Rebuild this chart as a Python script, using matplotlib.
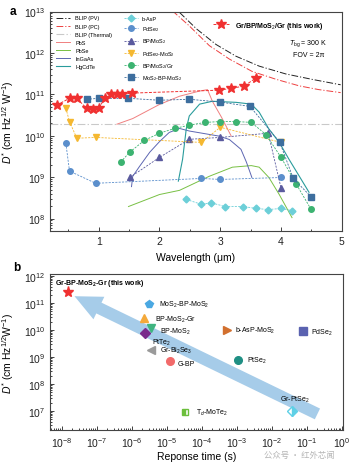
import matplotlib
matplotlib.use('Agg')
import matplotlib.pyplot as plt
import numpy as np
from matplotlib.ticker import MultipleLocator, FixedLocator, NullFormatter

plt.rcParams['font.family'] = ['Liberation Sans', 'DejaVu Sans']
plt.rcParams['mathtext.fontset'] = 'custom'
plt.rcParams['mathtext.rm'] = 'Liberation Sans'
plt.rcParams['mathtext.it'] = 'Liberation Sans:italic'
plt.rcParams['mathtext.bf'] = 'Liberation Sans:bold'

# ---------------- panel a data (wavelength in um, D* in Jones) ----------------
blip_pv_wl = [2.33, 2.61, 2.93, 3.26, 3.64, 4.08, 4.51, 4.98]
blip_pv_d = [9.5e12, 3.8e12, 1.6e12, 8.3e11, 4.8e11, 3.1e11, 2.3e11, 1.7e11]
blip_pc_wl = [2.21, 2.49, 2.82, 3.15, 3.52, 3.92, 4.30, 4.62, 4.98]
blip_pc_d = [1.05e13, 4.5e12, 1.5e12, 7.1e11, 3.6e11, 2.3e11, 1.6e11, 1.3e11, 1.1e11]
blip_th_wl = [0.2, 5.0]
blip_th_d = [1.9e10, 1.9e10]

pbs_wl = [1.30, 1.56, 2.0, 2.33, 2.66, 2.79, 2.87, 3.02, 3.18]
pbs_d = [1.9e10, 2.6e10, 5.7e10, 9e10, 1.2e11, 1.3e11, 6.8e10, 2.8e10, 9.8e9]
pbse_wl = [1.49, 2.0, 2.33, 2.82, 3.2, 3.51, 3.64, 3.80, 3.97, 4.18]
pbse_d = [1.95e8, 3.8e8, 4.8e8, 1.05e9, 1.74e9, 1.9e9, 1.74e9, 9.8e8, 3.8e8, 1.05e8]
ingaas_wl = [1.54, 1.56, 1.67, 1.84, 2.0, 2.16, 2.33, 2.49, 2.98, 3.15, 3.34, 3.43, 3.52]
ingaas_d = [5.9e8, 1.05e9, 1.8e9, 4e9, 7.2e9, 1.2e10, 1.5e10, 1.3e10, 9.8e9, 8.1e9,
            4.7e9, 2.3e9, 9.8e8]
hgcdte_wl = [2.31, 2.38, 2.44, 2.49, 2.66, 2.87, 3.26, 3.51, 3.64, 3.80, 3.97, 4.13, 4.30, 4.46]
hgcdte_d = [8e8, 2.7e9, 1.45e10, 3e10, 5.8e10, 6.8e10, 6.4e10, 5.8e10, 3.7e10, 1.45e10,
            6.9e9, 2.7e9, 1.05e9, 4.3e8]

basp_wl = [2.44, 2.69, 2.85, 3.08, 3.38, 3.59, 3.79, 4.0, 4.18]
basp_d = [2.9e8, 2.2e8, 2.4e8, 1.95e8, 1.95e8, 1.75e8, 1.65e8, 1.75e8, 1.55e8]
pdse2_wl = [0.46, 0.52, 0.95, 2.69, 3.0, 4.0]
pdse2_d = [6.6e9, 1.4e9, 7.1e8, 9.3e8, 8.8e8, 9.8e8]
bpmos2_wl = [1.51, 2.0, 2.49, 3.0, 3.79, 4.0]
bpmos2_d = [9.8e8, 3.0e9, 8.2e9, 9.1e9, 1.15e10, 5.4e8]
pdse2mos2_wl = [0.46, 0.52, 0.64, 0.95, 2.69, 3.0, 4.0]
pdse2mos2_d = [4.6e10, 2.2e10, 8.7e9, 9.1e9, 6.9e9, 1.6e10, 6.9e9]
bpmos2gr_wl = [1.36, 1.51, 1.75, 2.0, 2.25, 2.49, 2.75, 3.0, 3.26, 3.51, 3.75, 4.0, 4.25, 4.49]
bpmos2gr_d = [2.3e9, 4e9, 7.7e9, 1.15e10, 1.5e10, 1.8e10, 2.1e10, 2.2e10, 2.2e10, 2.1e10,
              1.07e10, 3.0e9, 6.8e8, 1.7e8]
mbm_wl = [0.80, 1.0, 1.49, 2.0, 2.49, 3.0, 3.49, 3.98, 4.2, 4.49]
mbm_d = [7.6e10, 8e10, 8e10, 7.2e10, 7.6e10, 6.5e10, 5.1e10, 6.9e9, 9.3e8, 3.4e8]

work_wl = [0.31, 0.52, 0.64, 0.80, 0.90, 1.0, 1.10, 1.21, 1.30, 1.39, 1.54, 2.98, 3.18, 3.39, 3.59]
work_d = [5.5e10, 8e10, 8e10, 4.6e10, 4.4e10, 4.6e10, 8e10, 1e11, 1e11, 1e11, 1.07e11,
          1.26e11, 1.4e11, 1.58e11, 2.5e11]

# ---------------- panel b data (response time in s, D* in Jones) ----------------
b_names = ['MoS$_2$-BP-MoS$_2$', 'BP-MoS$_2$-Gr', 'BP-MoS$_2$', 'PtTe$_2$',
           'Gr-Bi$_2$Se$_3$', 'G-BP', 'b-AsP-MoS$_2$', 'PdSe$_2$', 'PtSe$_2$',
           'T$_d$-MoTe$_2$', 'Gr-PtSe$_2$']
b_time = [3.1e-6, 2.2e-6, 3.6e-6, 2.35e-6, 3.6e-6, 1.2e-5, 5.1e-4, 0.075, 1.1e-3, 3.2e-5, 0.038]
b_dstar = [9.1e10, 2.7e10, 1.15e10, 7.6e9, 1.8e9, 7.2e8, 1e10, 8.9e9, 7.7e8, 9.3e6, 9.8e6]
b_markers = ['p', '^', 'v', 'D', '<', 'o', '>', 's', 'o', 's', 'D']
b_colors = ['#4aa8e2', '#f4a93a', '#3fb480', '#7a2b8c', '#9a9a9a', '#f26a6a', '#d2702e',
            '#5a62b0', '#1f8f84', '#6cbf3c', '#5fd0e6']
b_offsets = [(7, 0), (8, 0), (6, -1.5), (5, -6), (6, 0), (6, -1.5), (6, 0), (6, 0),
             (6, 0), (8, 0), (2, 9)]
work_time = 1.5e-8
work_dstar = 2.6e11
arrow_head = (2.3e-8, 1.8e11)
arrow_tail = (0.2, 7.9e6)

wl_ticks = [1, 2, 3, 4, 5]
a_dec = [1e8, 1e9, 1e10, 1e11, 1e12, 1e13]
b_xdec = [1e-8, 1e-7, 1e-6, 1e-5, 1e-4, 1e-3, 1e-2, 1e-1, 1e0]
b_ydec = [1e7, 1e8, 1e9, 1e10, 1e11, 1e12]


def minor_decades(lo, hi, first_exp, last_exp):
    vals = [m * 10.0 ** e for e in range(first_exp, last_exp + 1) for m in range(2, 10)]
    return [v for v in vals if lo <= v <= hi]


# ---------------- figure ----------------
fig = plt.figure(figsize=(3.55, 4.64), dpi=100)
ax1 = fig.add_axes([0.141, 0.5, 0.822, 0.473])
ax2 = fig.add_axes([0.141, 0.071, 0.825, 0.336])

fs_tick = 7.5
fs_lab = 7.5

# panel a curves
dd = (0, (7, 2, 1.2, 2))
h_pv, = ax1.plot(blip_pv_wl, blip_pv_d, color='#222222', ls=dd, lw=0.7, label='BLIP (PV)')
h_pc, = ax1.plot(blip_pc_wl, blip_pc_d, color='#ee4040', ls=dd, lw=0.7, label='BLIP (PC)')
h_th, = ax1.plot(blip_th_wl, blip_th_d, color='#c9c9c9', ls=dd, lw=0.8, label='BLIP (Thermal)')
h_pbs, = ax1.plot(pbs_wl, pbs_d, color='#f08080', lw=0.7, label='PbS')
h_pbse, = ax1.plot(pbse_wl, pbse_d, color='#78c044', lw=0.7, label='PbSe')
h_ing, = ax1.plot(ingaas_wl, ingaas_d, color='#5d66b2', lw=0.7, label='InGaAs')
h_hg, = ax1.plot(hgcdte_wl, hgcdte_d, color='#2a9c9c', lw=0.8, label='HgCdTe')

dash = (0, (2.5, 1.5))
series = [
    (basp_wl, basp_d, 'D', '#6ccfd8', 'b-AsP', 3.5),
    (pdse2_wl, pdse2_d, 'o', '#5b8fcc', 'PdSe$_2$', 4),
    (bpmos2_wl, bpmos2_d, '^', '#5a5a9e', 'BP/MoS$_2$', 4.5),
    (pdse2mos2_wl, pdse2mos2_d, 'v', '#f5b830', 'PdSe$_2$-MoS$_2$', 4.5),
    (bpmos2gr_wl, bpmos2gr_d, 'o', '#3cb371', 'BP/MoS$_2$/Gr', 4),
    (mbm_wl, mbm_d, 's', '#3d6e9e', 'MoS$_2$-BP-MoS$_2$', 4),
]
mark_handles = []
for x, y, m, c, lab, ms in series:
    h, = ax1.plot(x, y, ls=dash, lw=0.6, marker=m, ms=ms, color=c, mec=c, label=lab)
    mark_handles.append(h)

h_work, = ax1.plot(work_wl, work_d, ls=(0, (3, 1.5)), lw=0.7, marker='*', ms=7,
                   color='#f03030', mec='#f03030', label='Gr/BP/MoS$_2$/Gr (this work)', zorder=5)

ax1.set_yscale('log')
ax1.set_xlim(0.2, 5)
ax1.set_ylim(5e7, 1e13)
ax1.xaxis.set_major_locator(FixedLocator(wl_ticks))
ax1.xaxis.set_minor_locator(MultipleLocator(0.5))
ax1.yaxis.set_major_locator(FixedLocator(a_dec))
ax1.yaxis.set_minor_locator(FixedLocator(minor_decades(5e7, 1e13, 7, 12)))
ax1.yaxis.set_minor_formatter(NullFormatter())
ax1.set_xlabel('Wavelength (μm)', fontsize=fs_lab)
ax1.set_ylabel('$D^{*}$ (cm Hz$^{1/2}$ W$^{-1}$)', fontsize=fs_lab)
ax1.yaxis.set_label_coords(-0.115, 0.5)
ax1.xaxis.set_label_coords(0.5, -0.095)

leg1 = ax1.legend(handles=[h_pv, h_pc, h_th, h_pbs, h_pbse, h_ing, h_hg], loc='upper left',
                  bbox_to_anchor=(0.02, 0.982), frameon=False, fontsize=4, handlelength=2.6,
                  handletextpad=0.9, labelspacing=0.55, borderpad=0, borderaxespad=0)
ax1.add_artist(leg1)
leg2 = ax1.legend(handles=mark_handles, loc='upper left', bbox_to_anchor=(0.255, 0.98),
                  frameon=False, fontsize=4, handlelength=2.4, handletextpad=0.7,
                  labelspacing=0.6, borderpad=0, borderaxespad=0)
ax1.add_artist(leg2)
leg3 = ax1.legend(handles=[h_work], loc='upper left', bbox_to_anchor=(0.56, 0.962),
                  frameon=False, handlelength=2.2, handletextpad=0.9, borderpad=0,
                  borderaxespad=0, prop={'size': 5, 'weight': 'bold'})
ax1.text(0.885, 0.86, '$T_{\\rm bg}$ = 300 K', transform=ax1.transAxes, fontsize=5,
         ha='center', va='center')
ax1.text(0.885, 0.805, 'FOV = 2π', transform=ax1.transAxes, fontsize=5,
         ha='center', va='center')

# panel b
ax2.annotate('', xy=arrow_head, xytext=arrow_tail,
             arrowprops=dict(arrowstyle='simple,head_length=1.95,head_width=1.8,tail_width=0.86',
                             fc='#a6cce9', ec='none', mutation_scale=10, shrinkA=0, shrinkB=0),
             zorder=1)
for i, name in enumerate(b_names):
    kw = dict(marker=b_markers[i], ms=5.5, color=b_colors[i], mec=b_colors[i], ls='none',
              zorder=3)
    if name.startswith('T$_d$'):
        kw.update(fillstyle='left', markerfacecoloralt='white', ms=5)
    if name.startswith('Gr-PtSe'):
        kw.update(fillstyle='right', markerfacecoloralt='white', ms=5)
    if b_markers[i] == 'D' and not name.startswith('Gr-PtSe'):
        kw['ms'] = 5
    ax2.plot([b_time[i]], [b_dstar[i]], **kw)
    ha = 'center' if name.startswith('Gr-PtSe') else 'left'
    ax2.annotate(name, (b_time[i], b_dstar[i]), xytext=b_offsets[i], textcoords='offset points',
                 fontsize=5, ha=ha, va='center', zorder=4)
ax2.plot([work_time], [work_dstar], marker='*', ms=8, color='#f03030', ls='none', zorder=4)
ax2.annotate('Gr-BP-MoS$_{\\mathbf{2}}$-Gr (this work)', (work_time, work_dstar),
             xytext=(-9.5, 6.5), textcoords='offset points', fontsize=5, fontweight='bold',
             ha='left', va='center')

ax2.set_xscale('log')
ax2.set_yscale('log')
ax2.set_xlim(4.6e-9, 1.07)
ax2.set_ylim(2e6, 1.18e12)
ax2.xaxis.set_major_locator(FixedLocator(b_xdec))
ax2.xaxis.set_minor_locator(FixedLocator(minor_decades(4.6e-9, 1.07, -9, 0)))
ax2.xaxis.set_minor_formatter(NullFormatter())
ax2.yaxis.set_major_locator(FixedLocator(b_ydec))
ax2.yaxis.set_minor_locator(FixedLocator(minor_decades(2e6, 1.18e12, 6, 11)))
ax2.yaxis.set_minor_formatter(NullFormatter())
ax2.set_xlabel('Reponse time (s)', fontsize=fs_lab)
ax2.set_ylabel('$D^{*}$ (cm Hz$^{1/2}$W$^{-1}$)', fontsize=fs_lab)
ax2.yaxis.set_label_coords(-0.115, 0.5)
ax2.xaxis.set_label_coords(0.5, -0.135)

for ax in (ax1, ax2):
    ax.tick_params(which='both', direction='in', labelsize=fs_tick, width=0.6, colors='#222222')
    ax.tick_params(which='major', length=3)
    ax.tick_params(which='minor', length=1.6)
    for s in ax.spines.values():
        s.set_linewidth(0.8)
        s.set_color('#444444')

fig.text(10 / 355, 1 - 12 / 464, 'a', fontsize=8.5, fontweight='bold', va='center')
fig.text(13 / 355, 1 - 268 / 464, 'b', fontsize=8.5, fontweight='bold', va='center')
fig.text(0.745, 0.019, '公众号 · 红外芯闻', fontsize=6, color='#b5b5b5', va='center',
         family=['Noto Sans CJK SC', 'DejaVu Sans'])

fig.savefig('out.png', dpi=100)
